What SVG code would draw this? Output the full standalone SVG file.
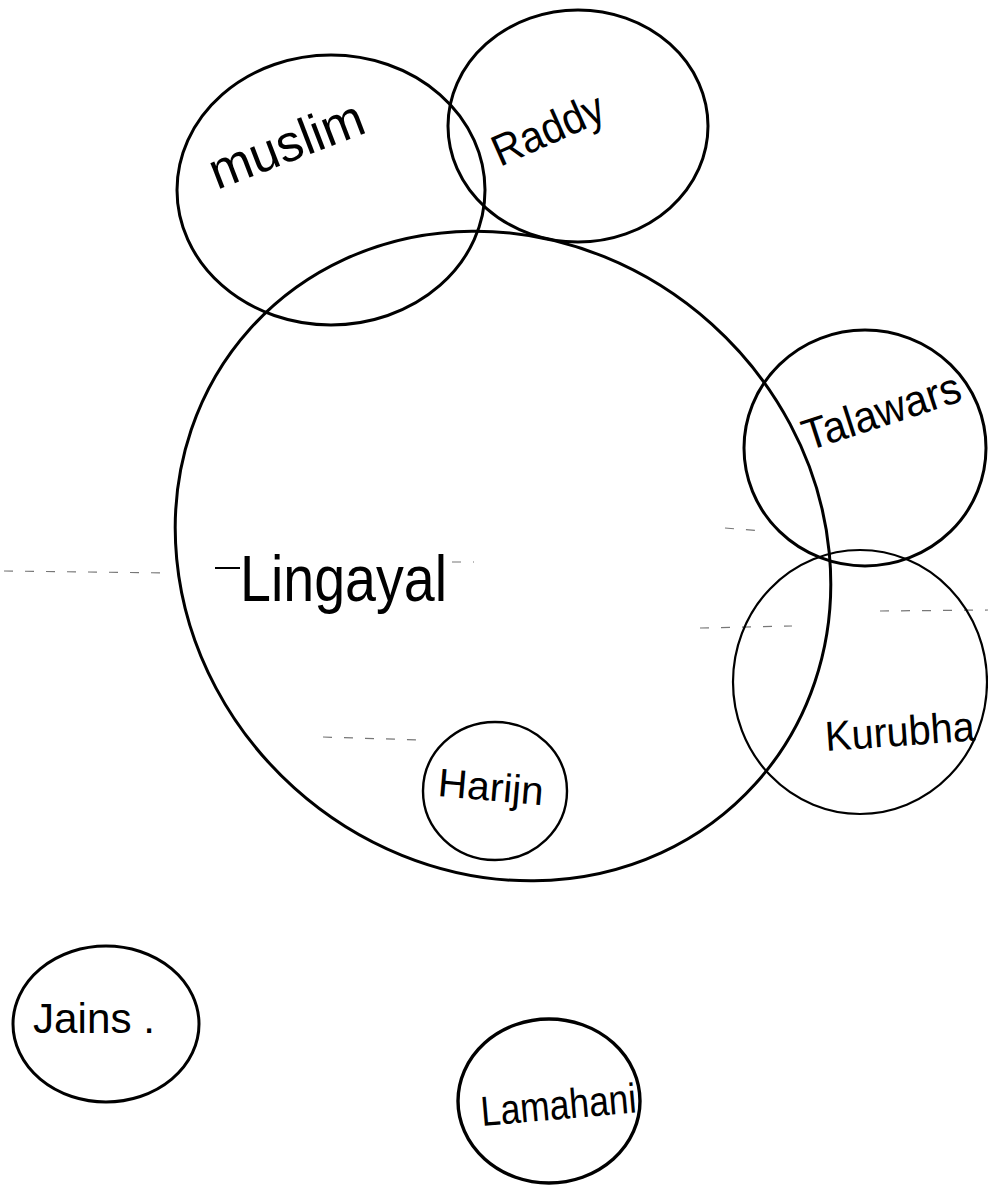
<svg xmlns="http://www.w3.org/2000/svg" width="988" height="1193" viewBox="0 0 988 1193">
  <style>
    .ring { fill: none; stroke: #000; stroke-linecap: round; stroke-linejoin: round; }
    .lbl { font-family: "Liberation Sans", "DejaVu Sans", sans-serif; fill: #000; }
    .scan { stroke: #777; stroke-width: 1.2; stroke-dasharray: 9 12; fill: none; }
  </style>
  <rect x="0" y="0" width="988" height="1193" fill="#fff"/>

  <g id="scan-marks">
    <line class="scan" x1="4" y1="571" x2="170" y2="573"/>
    <line class="scan" x1="452" y1="562" x2="474" y2="562"/>
    <line class="scan" x1="323" y1="737" x2="421" y2="740"/>
    <line class="scan" x1="700" y1="628" x2="792" y2="626"/>
    <line class="scan" x1="880" y1="611" x2="988" y2="610"/>
    <line class="scan" x1="725" y1="528" x2="762" y2="531"/>
  </g>

  <g id="connectors"/>

  <g id="node-lingayat">
    <ellipse class="ring" cx="503" cy="556" rx="340" ry="312" transform="rotate(42 503 556)" stroke-width="3"/>
    <line x1="215" y1="568" x2="240" y2="568" stroke="#000" stroke-width="2"/>
    <text class="lbl" x="240" y="601" font-size="64" textLength="207" lengthAdjust="spacingAndGlyphs">Lingayal</text>
  </g>

  <g id="node-muslim">
    <ellipse class="ring" cx="331" cy="190" rx="154" ry="135" stroke-width="3"/>
    <text class="lbl" x="217" y="190" font-size="52" textLength="162" lengthAdjust="spacingAndGlyphs" transform="rotate(-21 217 190)">muslim</text>
  </g>

  <g id="node-raddy">
    <ellipse class="ring" cx="578" cy="126" rx="130" ry="116" stroke-width="3"/>
    <text class="lbl" x="500" y="167" font-size="44" textLength="118" lengthAdjust="spacingAndGlyphs" transform="rotate(-24 500 167)">Raddy</text>
  </g>

  <g id="node-talawars">
    <ellipse class="ring" cx="865" cy="448" rx="121" ry="118" stroke-width="3"/>
    <text class="lbl" x="808" y="451" font-size="44" textLength="164" lengthAdjust="spacingAndGlyphs" transform="rotate(-18 808 451)">Talawars</text>
  </g>

  <g id="node-kurubha">
    <ellipse class="ring" cx="860" cy="682" rx="127" ry="132" stroke-width="2.2"/>
    <text class="lbl" x="826" y="751" font-size="42" textLength="150" lengthAdjust="spacingAndGlyphs" transform="rotate(-4 826 751)">Kurubha</text>
  </g>

  <g id="node-harijan">
    <ellipse class="ring" cx="495" cy="791" rx="72" ry="69" stroke-width="2.4"/>
    <text class="lbl" x="437" y="796" font-size="40" textLength="106" lengthAdjust="spacingAndGlyphs" transform="rotate(5 437 796)">Harijn</text>
  </g>

  <g id="node-jains">
    <ellipse class="ring" cx="106" cy="1024" rx="93" ry="78" stroke-width="3"/>
    <text class="lbl" x="33" y="1033" font-size="42" textLength="122" lengthAdjust="spacingAndGlyphs">Jains .</text>
  </g>

  <g id="node-lamahani">
    <ellipse class="ring" cx="549" cy="1101" rx="91" ry="82" stroke-width="3.4"/>
    <text class="lbl" x="482" y="1126" font-size="42" textLength="156" lengthAdjust="spacingAndGlyphs" transform="rotate(-5 482 1126)">Lamahani</text>
  </g>
</svg>
